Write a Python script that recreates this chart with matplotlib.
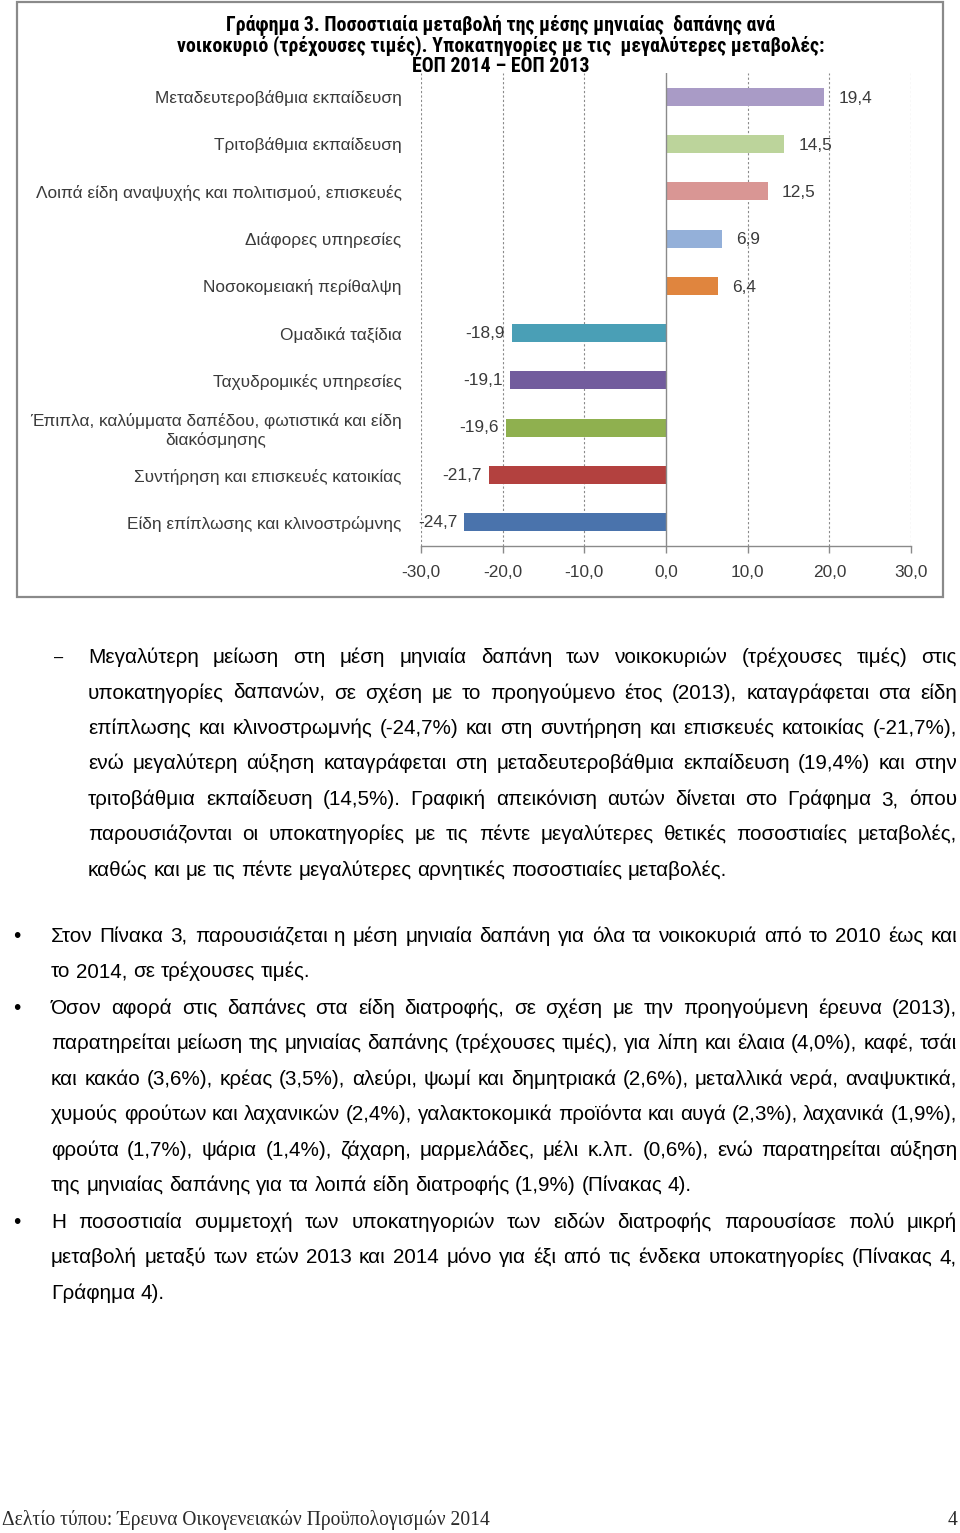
import matplotlib.pyplot as plt
from matplotlib.patches import Rectangle

# data of the chart (top to bottom)
categories = [
    'Μεταδευτεροβάθμια εκπαίδευση',
    'Τριτοβάθμια εκπαίδευση',
    'Λοιπά είδη αναψυχής και πολιτισμού, επισκευές',
    'Διάφορες υπηρεσίες',
    'Νοσοκομειακή περίθαλψη',
    'Ομαδικά ταξίδια',
    'Ταχυδρομικές υπηρεσίες',
    'Έπιπλα, καλύμματα δαπέδου, φωτιστικά και είδη\nδιακόσμησης',
    'Συντήρηση και επισκευές κατοικίας',
    'Είδη επίπλωσης και κλινοστρώμνης',
]
values = [19.4, 14.5, 12.5, 6.9, 6.4, -18.9, -19.1, -19.6, -21.7, -24.7]
bar_colors = ['#a99bc6', '#bcd49b', '#d99694', '#94b0d9', '#e0853e',
              '#4a9fb6', '#725c9d', '#8fb04f', '#b3413f', '#4a73ac']
xticks = [-30, -20, -10, 0, 10, 20, 30]

title_lines = [
    'Γράφημα 3. Ποσοστιαία μεταβολή της μέσης μηνιαίας  δαπάνης ανά',
    'νοικοκυριό (τρέχουσες τιμές). Υποκατηγορίες με τις  μεγαλύτερες μεταβολές:',
    'ΕΟΠ 2014 – ΕΟΠ 2013',
]

# page text, line by line as in the document
par_dash = [
    'Μεγαλύτερη μείωση στη μέση μηνιαία δαπάνη των νοικοκυριών (τρέχουσες τιμές) στις',
    'υποκατηγορίες δαπανών, σε σχέση με το προηγούμενο έτος (2013), καταγράφεται στα είδη',
    'επίπλωσης και κλινοστρωμνής (-24,7%) και στη συντήρηση και επισκευές κατοικίας (-21,7%),',
    'ενώ μεγαλύτερη αύξηση καταγράφεται στη μεταδευτεροβάθμια εκπαίδευση (19,4%) και στην',
    'τριτοβάθμια εκπαίδευση (14,5%). Γραφική απεικόνιση αυτών δίνεται στο Γράφημα 3, όπου',
    'παρουσιάζονται οι υποκατηγορίες με τις πέντε μεγαλύτερες θετικές ποσοστιαίες μεταβολές,',
    'καθώς και με τις πέντε μεγαλύτερες αρνητικές ποσοστιαίες μεταβολές.',
]
par_b1 = [
    'Στον Πίνακα 3, παρουσιάζεται η μέση μηνιαία δαπάνη για όλα τα νοικοκυριά από το 2010 έως και',
    'το 2014, σε τρέχουσες τιμές.',
]
par_b2 = [
    'Όσον αφορά στις δαπάνες στα είδη διατροφής, σε σχέση με την προηγούμενη έρευνα (2013),',
    'παρατηρείται μείωση της μηνιαίας δαπάνης (τρέχουσες τιμές), για λίπη και έλαια (4,0%), καφέ, τσάι',
    'και κακάο (3,6%), κρέας (3,5%), αλεύρι, ψωμί και δημητριακά (2,6%), μεταλλικά νερά, αναψυκτικά,',
    'χυμούς φρούτων και λαχανικών (2,4%), γαλακτοκομικά προϊόντα και αυγά (2,3%), λαχανικά (1,9%),',
    'φρούτα (1,7%), ψάρια (1,4%), ζάχαρη, μαρμελάδες, μέλι κ.λπ. (0,6%), ενώ παρατηρείται αύξηση',
    'της μηνιαίας δαπάνης για τα λοιπά είδη διατροφής (1,9%) (Πίνακας 4).',
]
par_b3 = [
    'Η ποσοστιαία συμμετοχή των υποκατηγοριών των ειδών διατροφής παρουσίασε πολύ μικρή',
    'μεταβολή μεταξύ των ετών 2013 και 2014 μόνο για έξι από τις ένδεκα υποκατηγορίες (Πίνακας 4,',
    'Γράφημα 4).',
]
footer = 'Δελτίο τύπου: Έρευνα Οικογενειακών Προϋπολογισμών 2014'

W, H = 960, 1533
fig = plt.figure(figsize=(W / 100, H / 100), dpi=100)
renderer = fig.canvas.get_renderer()
sans = ['Liberation Sans', 'DejaVu Sans']


def ptext(x, y, s, **kw):
    return fig.text(x / W, 1 - y / H, s, **kw)


def width_of(t):
    return t.get_window_extent(renderer).width


def fit_size(s, target, size0, **kw):
    t = fig.text(0, 0, s, fontsize=size0, **kw)
    w = width_of(t)
    t.remove()
    return size0 * target / w


# chart frame
fig.add_artist(Rectangle((17 / W, 1 - 597 / H), 926 / W, 595 / H,
                         transform=fig.transFigure, fill=False,
                         edgecolor='#8a8a8a', lw=1.6))

# title (narrow bold font if one is there)
tkw = dict(family=['Roboto Condensed', 'Liberation Sans Narrow',
                   'Liberation Sans', 'DejaVu Sans'], weight='bold')
tsize = min(fit_size(title_lines[1], 699, 14, **tkw), 14.3)
for y, line in zip([30, 51, 72], title_lines):
    ptext(501, y, line, ha='center', va='baseline', fontsize=tsize,
          color='black', **tkw)

# bar chart
ax = fig.add_axes([421 / W, 1 - 546 / H, 490 / W, 473 / H])
pos = list(range(len(categories)))
ax.barh(pos, values, height=0.38, color=bar_colors, zorder=3)
ax.set_xlim(-30, 30)
ax.set_ylim(len(categories) - 0.5, -0.5)
ax.set_xticks(xticks)
ax.set_xticklabels([f'{v:.1f}'.replace('.', ',') for v in xticks])
ax.set_yticks(pos)
ax.set_yticklabels(categories, multialignment='center')
for lab in ax.get_yticklabels() + ax.get_xticklabels():
    lab.set_family(sans)
    lab.set_fontsize(12.4)
    lab.set_color('#3a3a3a')
ax.tick_params(axis='y', length=0, pad=14)
ax.tick_params(axis='x', length=5, width=1, color='#8a8a8a', pad=9)
for s in ['top', 'right', 'left']:
    ax.spines[s].set_visible(False)
ax.spines['bottom'].set_color('#8a8a8a')
ax.spines['bottom'].set_linewidth(1)
for v in xticks:
    if v != 0:
        ax.axvline(v, color='#8a8a8a', lw=0.8, ls=(0, (2, 2)), zorder=1)
ax.axvline(0, color='#8a8a8a', lw=1, zorder=4)

for p, v in zip(pos, values):
    lab = f'{v:.1f}'.replace('.', ',')
    if v > 0:
        ax.annotate(lab, (v, p), xytext=(10, -1), textcoords='offset points',
                    ha='left', va='center', fontsize=12.4, family=sans,
                    color='#3a3a3a')
    else:
        ax.annotate(lab, (v, p), xytext=(-5, 0), textcoords='offset points',
                    ha='right', va='center', fontsize=12.4, family=sans,
                    color='#3a3a3a')

# body text, justified word by word
BODY = fit_size(par_dash[-1], 636, 13, family=sans)
space_w = None


def text_line(words_line, x0, x1, y, justify):
    global space_w
    words = words_line.split()
    ts = [ptext(0, y, w, fontsize=BODY, family=sans, va='baseline',
                color='black') for w in words]
    ws = [width_of(t) for t in ts]
    if space_w is None:
        a = fig.text(0, 0, 'x x', fontsize=BODY, family=sans)
        b = fig.text(0, 0, 'xx', fontsize=BODY, family=sans)
        space_w = width_of(a) - width_of(b)
        a.remove()
        b.remove()
    if justify and len(words) > 1:
        gap = (x1 - x0 - sum(ws)) / (len(words) - 1)
    else:
        gap = space_w
    x = x0
    for t, w in zip(ts, ws):
        t.set_x(x / W)
        x += w + gap


def paragraph(lines, x0, x1, baselines):
    for i, (line, y) in enumerate(zip(lines, baselines)):
        text_line(line, x0, x1, y, i < len(lines) - 1)


paragraph(par_dash, 88, 957, [663, 699, 734, 769, 805, 840, 876])
ptext(54, 663, '–', fontsize=BODY * 0.8, family=sans, va='baseline')
paragraph(par_b1, 51, 957, [942, 977])
paragraph(par_b2, 51, 957, [1014, 1049, 1085, 1120, 1156, 1191])
paragraph(par_b3, 51, 957, [1228, 1263, 1299])
for y in [942, 1014, 1228]:
    ptext(13, y, '•', fontsize=BODY, family=sans, va='baseline')

# footer
fkw = dict(family=['Liberation Serif', 'DejaVu Serif'])
fsize = fit_size(footer, 486, 12, **fkw)
ptext(2, 1525, footer, fontsize=fsize, va='baseline', color='#2a2a2a', **fkw)
ptext(957, 1525, '4', fontsize=fsize, va='baseline', ha='right',
      color='#2a2a2a', **fkw)

fig.savefig('out.png', dpi=100)
